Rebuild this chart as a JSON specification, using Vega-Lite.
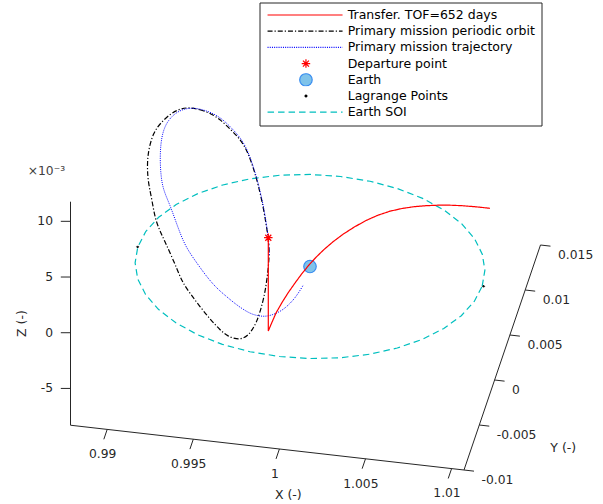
{
"$schema": "https://vega.github.io/schema/vega-lite/v6.json",
"width": 603, "height": 504, "autosize": {"type": "none"}, "padding": 0,
"background": "white",
"config": {"view": {"stroke": null}, "font": "DejaVu Sans"},
"data": {"values": [
{"k":"ax","s":"xa","i":0,"X":0.987869,"Y":-0.01,"Z":-0.008303},
{"k":"ax","s":"xa","i":1,"X":1.01072,"Y":-0.01,"Z":-0.008303},
{"k":"ax","s":"ya","i":0,"X":1.01072,"Y":-0.01,"Z":-0.008303},
{"k":"ax","s":"ya","i":1,"X":1.01072,"Y":0.015,"Z":-0.008303},
{"k":"ax","s":"za","i":0,"X":0.987869,"Y":-0.01,"Z":-0.008303},
{"k":"ax","s":"za","i":1,"X":0.987869,"Y":-0.01,"Z":0.011761},
{"k":"ax","s":"x1","i":0,"X":0.99,"Y":-0.01,"Z":-0.008303},
{"k":"ax","s":"x1","i":1,"X":0.99,"Y":-0.0111,"Z":-0.008303},
{"k":"ax","s":"x2","i":0,"X":0.995,"Y":-0.01,"Z":-0.008303},
{"k":"ax","s":"x2","i":1,"X":0.995,"Y":-0.0111,"Z":-0.008303},
{"k":"ax","s":"x3","i":0,"X":1,"Y":-0.01,"Z":-0.008303},
{"k":"ax","s":"x3","i":1,"X":1,"Y":-0.0111,"Z":-0.008303},
{"k":"ax","s":"x4","i":0,"X":1.005,"Y":-0.01,"Z":-0.008303},
{"k":"ax","s":"x4","i":1,"X":1.005,"Y":-0.0111,"Z":-0.008303},
{"k":"ax","s":"x5","i":0,"X":1.01,"Y":-0.01,"Z":-0.008303},
{"k":"ax","s":"x5","i":1,"X":1.01,"Y":-0.0111,"Z":-0.008303},
{"k":"ax","s":"y1","i":0,"X":1.01072,"Y":-0.01,"Z":-0.008303},
{"k":"ax","s":"y1","i":1,"X":1.0113,"Y":-0.01,"Z":-0.008303},
{"k":"ax","s":"y2","i":0,"X":1.01072,"Y":-0.005,"Z":-0.008303},
{"k":"ax","s":"y2","i":1,"X":1.0113,"Y":-0.005,"Z":-0.008303},
{"k":"ax","s":"y3","i":0,"X":1.01072,"Y":0,"Z":-0.008303},
{"k":"ax","s":"y3","i":1,"X":1.0113,"Y":0,"Z":-0.008303},
{"k":"ax","s":"y4","i":0,"X":1.01072,"Y":0.005,"Z":-0.008303},
{"k":"ax","s":"y4","i":1,"X":1.0113,"Y":0.005,"Z":-0.008303},
{"k":"ax","s":"y5","i":0,"X":1.01072,"Y":0.01,"Z":-0.008303},
{"k":"ax","s":"y5","i":1,"X":1.0113,"Y":0.01,"Z":-0.008303},
{"k":"ax","s":"y6","i":0,"X":1.01072,"Y":0.015,"Z":-0.008303},
{"k":"ax","s":"y6","i":1,"X":1.0113,"Y":0.015,"Z":-0.008303},
{"k":"ax","s":"z1","i":0,"X":0.987869,"Y":-0.01,"Z":-0.005},
{"k":"ax","s":"z1","i":1,"X":0.987327,"Y":-0.010118,"Z":-0.005},
{"k":"ax","s":"z2","i":0,"X":0.987869,"Y":-0.01,"Z":0},
{"k":"ax","s":"z2","i":1,"X":0.987327,"Y":-0.010118,"Z":0},
{"k":"ax","s":"z3","i":0,"X":0.987869,"Y":-0.01,"Z":0.005},
{"k":"ax","s":"z3","i":1,"X":0.987327,"Y":-0.010118,"Z":0.005},
{"k":"ax","s":"z4","i":0,"X":0.987869,"Y":-0.01,"Z":0.01},
{"k":"ax","s":"z4","i":1,"X":0.987327,"Y":-0.010118,"Z":0.01},
{"k":"xl","t":"0.99","X":0.99,"Y":-0.01,"Z":-0.008303},
{"k":"xl","t":"0.995","X":0.995,"Y":-0.01,"Z":-0.008303},
{"k":"xl","t":"1","X":1,"Y":-0.01,"Z":-0.008303},
{"k":"xl","t":"1.005","X":1.005,"Y":-0.01,"Z":-0.008303},
{"k":"xl","t":"1.01","X":1.01,"Y":-0.01,"Z":-0.008303},
{"k":"yl","t":"-0.01","X":1.01072,"Y":-0.01,"Z":-0.008303},
{"k":"yl","t":"-0.005","X":1.01072,"Y":-0.005,"Z":-0.008303},
{"k":"yl","t":"0","X":1.01072,"Y":0,"Z":-0.008303},
{"k":"yl","t":"0.005","X":1.01072,"Y":0.005,"Z":-0.008303},
{"k":"yl","t":"0.01","X":1.01072,"Y":0.01,"Z":-0.008303},
{"k":"yl","t":"0.015","X":1.01072,"Y":0.015,"Z":-0.008303},
{"k":"zl","t":"-5","X":0.987869,"Y":-0.01,"Z":-0.005},
{"k":"zl","t":"0","X":0.987869,"Y":-0.01,"Z":0},
{"k":"zl","t":"5","X":0.987869,"Y":-0.01,"Z":0.005},
{"k":"zl","t":"10","X":0.987869,"Y":-0.01,"Z":0.01},
{"k":"xt","t":"X (-)","X":1,"Y":-0.01,"Z":-0.008303},
{"k":"yt","t":"Y (-)","X":1.01072,"Y":0,"Z":-0.008303},
{"k":"zt","t":"Z (-)","X":0.987869,"Y":-0.01,"Z":0},
{"k":"ex","t":"×10⁻³","X":0.987869,"Y":-0.01,"Z":0.011761},
{"k":"soi","s":"Earth SOI","i":0,"X":1.01,"Y":0,"Z":0},
{"k":"soi","s":"Earth SOI","i":1,"X":1.009848,"Y":0.001736,"Z":0},
{"k":"soi","s":"Earth SOI","i":2,"X":1.009397,"Y":0.00342,"Z":0},
{"k":"soi","s":"Earth SOI","i":3,"X":1.00866,"Y":0.005,"Z":0},
{"k":"soi","s":"Earth SOI","i":4,"X":1.00766,"Y":0.006428,"Z":0},
{"k":"soi","s":"Earth SOI","i":5,"X":1.006428,"Y":0.00766,"Z":0},
{"k":"soi","s":"Earth SOI","i":6,"X":1.005,"Y":0.00866,"Z":0},
{"k":"soi","s":"Earth SOI","i":7,"X":1.00342,"Y":0.009397,"Z":0},
{"k":"soi","s":"Earth SOI","i":8,"X":1.001736,"Y":0.009848,"Z":0},
{"k":"soi","s":"Earth SOI","i":9,"X":1,"Y":0.01,"Z":0},
{"k":"soi","s":"Earth SOI","i":10,"X":0.998264,"Y":0.009848,"Z":0},
{"k":"soi","s":"Earth SOI","i":11,"X":0.99658,"Y":0.009397,"Z":0},
{"k":"soi","s":"Earth SOI","i":12,"X":0.995,"Y":0.00866,"Z":0},
{"k":"soi","s":"Earth SOI","i":13,"X":0.993572,"Y":0.00766,"Z":0},
{"k":"soi","s":"Earth SOI","i":14,"X":0.99234,"Y":0.006428,"Z":0},
{"k":"soi","s":"Earth SOI","i":15,"X":0.99134,"Y":0.005,"Z":0},
{"k":"soi","s":"Earth SOI","i":16,"X":0.990603,"Y":0.00342,"Z":0},
{"k":"soi","s":"Earth SOI","i":17,"X":0.990152,"Y":0.001736,"Z":0},
{"k":"soi","s":"Earth SOI","i":18,"X":0.99,"Y":0,"Z":0},
{"k":"soi","s":"Earth SOI","i":19,"X":0.990152,"Y":-0.001736,"Z":0},
{"k":"soi","s":"Earth SOI","i":20,"X":0.990603,"Y":-0.00342,"Z":0},
{"k":"soi","s":"Earth SOI","i":21,"X":0.99134,"Y":-0.005,"Z":0},
{"k":"soi","s":"Earth SOI","i":22,"X":0.99234,"Y":-0.006428,"Z":0},
{"k":"soi","s":"Earth SOI","i":23,"X":0.993572,"Y":-0.00766,"Z":0},
{"k":"soi","s":"Earth SOI","i":24,"X":0.995,"Y":-0.00866,"Z":0},
{"k":"soi","s":"Earth SOI","i":25,"X":0.99658,"Y":-0.009397,"Z":0},
{"k":"soi","s":"Earth SOI","i":26,"X":0.998264,"Y":-0.009848,"Z":0},
{"k":"soi","s":"Earth SOI","i":27,"X":1,"Y":-0.01,"Z":0},
{"k":"soi","s":"Earth SOI","i":28,"X":1.001736,"Y":-0.009848,"Z":0},
{"k":"soi","s":"Earth SOI","i":29,"X":1.00342,"Y":-0.009397,"Z":0},
{"k":"soi","s":"Earth SOI","i":30,"X":1.005,"Y":-0.00866,"Z":0},
{"k":"soi","s":"Earth SOI","i":31,"X":1.006428,"Y":-0.00766,"Z":0},
{"k":"soi","s":"Earth SOI","i":32,"X":1.00766,"Y":-0.006428,"Z":0},
{"k":"soi","s":"Earth SOI","i":33,"X":1.00866,"Y":-0.005,"Z":0},
{"k":"soi","s":"Earth SOI","i":34,"X":1.009397,"Y":-0.00342,"Z":0},
{"k":"soi","s":"Earth SOI","i":35,"X":1.009848,"Y":-0.001736,"Z":0},
{"k":"soi","s":"Earth SOI","i":36,"X":1.01,"Y":0,"Z":0},
{"k":"lp","s":"Lagrange Points","X":0.98999,"Y":0,"Z":0},
{"k":"lp","s":"Lagrange Points","X":1.01008,"Y":0,"Z":0},
{"k":"po","s":"Primary mission periodic orbit","i":0,"X":0.992933,"Y":0,"Z":0.013047},
{"k":"po","s":"Primary mission periodic orbit","i":1,"X":0.993612,"Y":0,"Z":0.01297},
{"k":"po","s":"Primary mission periodic orbit","i":2,"X":0.994251,"Y":0,"Z":0.012723},
{"k":"po","s":"Primary mission periodic orbit","i":3,"X":0.994832,"Y":0,"Z":0.012242},
{"k":"po","s":"Primary mission periodic orbit","i":4,"X":0.995441,"Y":0,"Z":0.011406},
{"k":"po","s":"Primary mission periodic orbit","i":5,"X":0.995935,"Y":0,"Z":0.01073},
{"k":"po","s":"Primary mission periodic orbit","i":6,"X":0.996324,"Y":0,"Z":0.009811},
{"k":"po","s":"Primary mission periodic orbit","i":7,"X":0.996574,"Y":0,"Z":0.008868},
{"k":"po","s":"Primary mission periodic orbit","i":8,"X":0.996806,"Y":0,"Z":0.007804},
{"k":"po","s":"Primary mission periodic orbit","i":9,"X":0.997009,"Y":0,"Z":0.0067},
{"k":"po","s":"Primary mission periodic orbit","i":10,"X":0.997195,"Y":0,"Z":0.005476},
{"k":"po","s":"Primary mission periodic orbit","i":11,"X":0.997358,"Y":0,"Z":0.004248},
{"k":"po","s":"Primary mission periodic orbit","i":12,"X":0.997485,"Y":0,"Z":0.002987},
{"k":"po","s":"Primary mission periodic orbit","i":13,"X":0.997578,"Y":0,"Z":0.002159},
{"k":"po","s":"Primary mission periodic orbit","i":14,"X":0.997636,"Y":0,"Z":0.001065},
{"k":"po","s":"Primary mission periodic orbit","i":15,"X":0.997607,"Y":0,"Z":-0.000107},
{"k":"po","s":"Primary mission periodic orbit","i":16,"X":0.99752,"Y":0,"Z":-0.001352},
{"k":"po","s":"Primary mission periodic orbit","i":17,"X":0.997416,"Y":0,"Z":-0.002474},
{"k":"po","s":"Primary mission periodic orbit","i":18,"X":0.997288,"Y":0,"Z":-0.003484},
{"k":"po","s":"Primary mission periodic orbit","i":19,"X":0.997096,"Y":0,"Z":-0.004595},
{"k":"po","s":"Primary mission periodic orbit","i":20,"X":0.996905,"Y":0,"Z":-0.0055},
{"k":"po","s":"Primary mission periodic orbit","i":21,"X":0.996661,"Y":0,"Z":-0.006243},
{"k":"po","s":"Primary mission periodic orbit","i":22,"X":0.996417,"Y":0,"Z":-0.006779},
{"k":"po","s":"Primary mission periodic orbit","i":23,"X":0.996109,"Y":0,"Z":-0.007148},
{"k":"po","s":"Primary mission periodic orbit","i":24,"X":0.995743,"Y":0,"Z":-0.007284},
{"k":"po","s":"Primary mission periodic orbit","i":25,"X":0.995238,"Y":0,"Z":-0.007122},
{"k":"po","s":"Primary mission periodic orbit","i":26,"X":0.994774,"Y":0,"Z":-0.00662},
{"k":"po","s":"Primary mission periodic orbit","i":27,"X":0.994193,"Y":0,"Z":-0.005734},
{"k":"po","s":"Primary mission periodic orbit","i":28,"X":0.993612,"Y":0,"Z":-0.004733},
{"k":"po","s":"Primary mission periodic orbit","i":29,"X":0.993031,"Y":0,"Z":-0.003632},
{"k":"po","s":"Primary mission periodic orbit","i":30,"X":0.992567,"Y":0,"Z":-0.002654},
{"k":"po","s":"Primary mission periodic orbit","i":31,"X":0.992305,"Y":0,"Z":-0.001668},
{"k":"po","s":"Primary mission periodic orbit","i":32,"X":0.991928,"Y":0,"Z":-0.000388},
{"k":"po","s":"Primary mission periodic orbit","i":33,"X":0.99158,"Y":0,"Z":0.000745},
{"k":"po","s":"Primary mission periodic orbit","i":34,"X":0.99126,"Y":0,"Z":0.001739},
{"k":"po","s":"Primary mission periodic orbit","i":35,"X":0.990999,"Y":0,"Z":0.002743},
{"k":"po","s":"Primary mission periodic orbit","i":36,"X":0.990825,"Y":0,"Z":0.004355},
{"k":"po","s":"Primary mission periodic orbit","i":37,"X":0.990621,"Y":0,"Z":0.005756},
{"k":"po","s":"Primary mission periodic orbit","i":38,"X":0.990552,"Y":0,"Z":0.007},
{"k":"po","s":"Primary mission periodic orbit","i":39,"X":0.990569,"Y":0,"Z":0.00808},
{"k":"po","s":"Primary mission periodic orbit","i":40,"X":0.990668,"Y":0,"Z":0.009112},
{"k":"po","s":"Primary mission periodic orbit","i":41,"X":0.9909,"Y":0,"Z":0.010356},
{"k":"po","s":"Primary mission periodic orbit","i":42,"X":0.991289,"Y":0,"Z":0.011322},
{"k":"po","s":"Primary mission periodic orbit","i":43,"X":0.991969,"Y":0,"Z":0.012393},
{"k":"po","s":"Primary mission periodic orbit","i":44,"X":0.992451,"Y":0,"Z":0.01281},
{"k":"tr","s":"Primary mission trajectory","i":0,"X":0.997631,"Y":0,"Z":0.000615},
{"k":"tr","s":"Primary mission trajectory","i":1,"X":0.997596,"Y":0,"Z":0.001956},
{"k":"tr","s":"Primary mission trajectory","i":2,"X":0.997503,"Y":0,"Z":0.003017},
{"k":"tr","s":"Primary mission trajectory","i":3,"X":0.997375,"Y":0,"Z":0.004251},
{"k":"tr","s":"Primary mission trajectory","i":4,"X":0.997224,"Y":0,"Z":0.005481},
{"k":"tr","s":"Primary mission trajectory","i":5,"X":0.996847,"Y":0,"Z":0.007838},
{"k":"tr","s":"Primary mission trajectory","i":6,"X":0.99637,"Y":0,"Z":0.009819},
{"k":"tr","s":"Primary mission trajectory","i":7,"X":0.995993,"Y":0,"Z":0.010785},
{"k":"tr","s":"Primary mission trajectory","i":8,"X":0.995499,"Y":0,"Z":0.011551},
{"k":"tr","s":"Primary mission trajectory","i":9,"X":0.994919,"Y":0,"Z":0.012347},
{"k":"tr","s":"Primary mission trajectory","i":10,"X":0.99428,"Y":0,"Z":0.012818},
{"k":"tr","s":"Primary mission trajectory","i":11,"X":0.993612,"Y":0,"Z":0.013032},
{"k":"tr","s":"Primary mission trajectory","i":12,"X":0.992944,"Y":0,"Z":0.013022},
{"k":"tr","s":"Primary mission trajectory","i":13,"X":0.992259,"Y":0,"Z":0.012534},
{"k":"tr","s":"Primary mission trajectory","i":14,"X":0.991771,"Y":0,"Z":0.011703},
{"k":"tr","s":"Primary mission trajectory","i":15,"X":0.991481,"Y":0,"Z":0.010754},
{"k":"tr","s":"Primary mission trajectory","i":16,"X":0.99133,"Y":0,"Z":0.009534},
{"k":"tr","s":"Primary mission trajectory","i":17,"X":0.991289,"Y":0,"Z":0.008028},
{"k":"tr","s":"Primary mission trajectory","i":18,"X":0.991347,"Y":0,"Z":0.006539},
{"k":"tr","s":"Primary mission trajectory","i":19,"X":0.991481,"Y":0,"Z":0.005368},
{"k":"tr","s":"Primary mission trajectory","i":20,"X":0.99187,"Y":0,"Z":0.00409},
{"k":"tr","s":"Primary mission trajectory","i":21,"X":0.992218,"Y":0,"Z":0.002625},
{"k":"tr","s":"Primary mission trajectory","i":22,"X":0.992642,"Y":0,"Z":0.000932},
{"k":"tr","s":"Primary mission trajectory","i":23,"X":0.993031,"Y":0,"Z":-0.000041},
{"k":"tr","s":"Primary mission trajectory","i":24,"X":0.993513,"Y":0,"Z":-0.001007},
{"k":"tr","s":"Primary mission trajectory","i":25,"X":0.994001,"Y":0,"Z":-0.001971},
{"k":"tr","s":"Primary mission trajectory","i":26,"X":0.994582,"Y":0,"Z":-0.00291},
{"k":"tr","s":"Primary mission trajectory","i":27,"X":0.995163,"Y":0,"Z":-0.003562},
{"k":"tr","s":"Primary mission trajectory","i":28,"X":0.995703,"Y":0,"Z":-0.004167},
{"k":"tr","s":"Primary mission trajectory","i":29,"X":0.996324,"Y":0,"Z":-0.004704},
{"k":"tr","s":"Primary mission trajectory","i":30,"X":0.996748,"Y":0,"Z":-0.004926},
{"k":"tr","s":"Primary mission trajectory","i":31,"X":0.997288,"Y":0,"Z":-0.004983},
{"k":"tr","s":"Primary mission trajectory","i":32,"X":0.997735,"Y":0,"Z":-0.004797},
{"k":"tr","s":"Primary mission trajectory","i":33,"X":0.998258,"Y":0,"Z":-0.004364},
{"k":"tr","s":"Primary mission trajectory","i":34,"X":0.998664,"Y":0,"Z":-0.003826},
{"k":"tr","s":"Primary mission trajectory","i":35,"X":0.99903,"Y":0,"Z":-0.003178},
{"k":"tr","s":"Primary mission trajectory","i":36,"X":0.999332,"Y":0,"Z":-0.002496},
{"k":"tr","s":"Primary mission trajectory","i":37,"X":0.999611,"Y":0,"Z":-0.001729},
{"k":"ea","s":"Earth","X":1,"Y":0,"Z":0},
{"k":"tf","s":"Transfer. TOF=652 days","i":0,"X":0.997578,"Y":0,"Z":0.002159},
{"k":"tf","s":"Transfer. TOF=652 days","i":1,"X":0.997578,"Y":0,"Z":-0.002087},
{"k":"tf","s":"Transfer. TOF=652 days","i":2,"X":0.997578,"Y":0,"Z":-0.006216},
{"k":"tf","s":"Transfer. TOF=652 days","i":3,"X":0.997735,"Y":0,"Z":-0.005605},
{"k":"tf","s":"Transfer. TOF=652 days","i":4,"X":0.998026,"Y":0,"Z":-0.004522},
{"k":"tf","s":"Transfer. TOF=652 days","i":5,"X":0.998374,"Y":0,"Z":-0.003518},
{"k":"tf","s":"Transfer. TOF=652 days","i":6,"X":0.998722,"Y":0,"Z":-0.002604},
{"k":"tf","s":"Transfer. TOF=652 days","i":7,"X":0.999129,"Y":0,"Z":-0.001634},
{"k":"tf","s":"Transfer. TOF=652 days","i":8,"X":0.999535,"Y":0,"Z":-0.00071},
{"k":"tf","s":"Transfer. TOF=652 days","i":9,"X":0.999942,"Y":0,"Z":0.000124},
{"k":"tf","s":"Transfer. TOF=652 days","i":10,"X":1.000348,"Y":0,"Z":0.000887},
{"k":"tf","s":"Transfer. TOF=652 days","i":11,"X":1.000813,"Y":0,"Z":0.001669},
{"k":"tf","s":"Transfer. TOF=652 days","i":12,"X":1.001336,"Y":0,"Z":0.002452},
{"k":"tf","s":"Transfer. TOF=652 days","i":13,"X":1.001916,"Y":0,"Z":0.003228},
{"k":"tf","s":"Transfer. TOF=652 days","i":14,"X":1.002555,"Y":0,"Z":0.003977},
{"k":"tf","s":"Transfer. TOF=652 days","i":15,"X":1.003252,"Y":0,"Z":0.004701},
{"k":"tf","s":"Transfer. TOF=652 days","i":16,"X":1.003949,"Y":0,"Z":0.0053},
{"k":"tf","s":"Transfer. TOF=652 days","i":17,"X":1.004646,"Y":0,"Z":0.005782},
{"k":"tf","s":"Transfer. TOF=652 days","i":18,"X":1.005343,"Y":0,"Z":0.006146},
{"k":"tf","s":"Transfer. TOF=652 days","i":19,"X":1.006039,"Y":0,"Z":0.006431},
{"k":"tf","s":"Transfer. TOF=652 days","i":20,"X":1.006736,"Y":0,"Z":0.006643},
{"k":"tf","s":"Transfer. TOF=652 days","i":21,"X":1.007433,"Y":0,"Z":0.006811},
{"k":"tf","s":"Transfer. TOF=652 days","i":22,"X":1.00813,"Y":0,"Z":0.006933},
{"k":"tf","s":"Transfer. TOF=652 days","i":23,"X":1.008827,"Y":0,"Z":0.007011},
{"k":"tf","s":"Transfer. TOF=652 days","i":24,"X":1.00964,"Y":0,"Z":0.007055},
{"k":"tf","s":"Transfer. TOF=652 days","i":25,"X":1.010453,"Y":0,"Z":0.007064},
{"k":"dp","s":"Departure point","X":0.997578,"Y":0,"Z":0.002159}
]},
"transform": [
{"calculate": "17220*(datum.X-1)+3060*datum.Y", "as": "h"},
{"calculate": "-1960*(datum.X-1)+9000*datum.Y+11140*datum.Z", "as": "w"}
],
"encoding": {
"x": {"field": "h", "type": "quantitative", "scale": {"domain": [-310, 293], "nice": false, "zero": false}, "axis": null},
"y": {"field": "w", "type": "quantitative", "scale": {"domain": [-237.5, 266.5], "nice": false, "zero": false}, "axis": null}
},
"layer": [
{"transform": [{"filter": "datum.k==='ax'"}], "mark": {"type": "line", "color": "#262626", "strokeWidth": 1}, "encoding": {"detail": {"field": "s"}, "order": {"field": "i", "type": "quantitative"}}},
{"transform": [{"filter": "datum.k==='zl'"}], "mark": {"type": "text", "align": "right", "baseline": "middle", "dx": -17.5, "fontSize": 12.3, "font": "DejaVu Sans", "color": "#262626"}, "encoding": {"text": {"field": "t"}}},
{"transform": [{"filter": "datum.k==='xl'"}], "mark": {"type": "text", "align": "center", "baseline": "middle", "dx": -4.6, "dy": 24.8, "fontSize": 12.3, "font": "DejaVu Sans", "color": "#262626"}, "encoding": {"text": {"field": "t"}}},
{"transform": [{"filter": "datum.k==='yl'"}], "mark": {"type": "text", "align": "left", "baseline": "middle", "dx": 17.5, "dy": 9.5, "fontSize": 12.3, "font": "DejaVu Sans", "color": "#262626"}, "encoding": {"text": {"field": "t"}}},
{"transform": [{"filter": "datum.k==='xt'"}], "mark": {"type": "text", "align": "center", "baseline": "middle", "dx": 8.9, "dy": 46, "fontSize": 12.5, "font": "DejaVu Sans", "color": "#262626"}, "encoding": {"text": {"field": "t"}}},
{"transform": [{"filter": "datum.k==='yt'"}], "mark": {"type": "text", "align": "center", "baseline": "middle", "dx": 68.7, "dy": 68.3, "fontSize": 12.5, "font": "DejaVu Sans", "color": "#262626"}, "encoding": {"text": {"field": "t"}}},
{"transform": [{"filter": "datum.k==='zt'"}], "mark": {"type": "text", "align": "center", "baseline": "middle", "angle": 270, "dx": 9.2, "dy": -48.8, "fontSize": 12.5, "font": "DejaVu Sans", "color": "#262626"}, "encoding": {"text": {"field": "t"}}},
{"transform": [{"filter": "datum.k==='ex'"}], "mark": {"type": "text", "align": "left", "baseline": "alphabetic", "dx": -42.8, "dy": -26.7, "fontSize": 12.3, "font": "DejaVu Sans", "color": "#404040"}, "encoding": {"text": {"field": "t"}}},
{"transform": [{"filter": "datum.k==='soi'"}], "mark": {"type": "line", "strokeWidth": 1.2},
 "encoding": {"order": {"field": "i", "type": "quantitative"},
  "stroke": {"field": "s", "type": "nominal",
   "scale": {"domain": ["Transfer. TOF=652 days", "Primary mission periodic orbit", "Primary mission trajectory", "Departure point", "Earth", "Lagrange Points", "Earth SOI"],
             "range": ["#ff0000", "#000000", "#0000ff", "#ff0000", "#3a8ef0", "#000000", "#00bfbf"]},
   "legend": {"orient": "none", "legendX": 259.5, "legendY": 2.5, "title": null,
     "padding": 6, "rowPadding": 3.2, "clipHeight": 13, "symbolSize": 100, "symbolStrokeWidth": 1.2, "symbolOffset": 34.2,
     "labelFont": "DejaVu Sans", "labelFontSize": 12.5, "labelColor": "#000000", "labelOffset": 35.5, "labelLimit": 400,
     "strokeColor": "#262626", "fillColor": "#ffffff"}},
  "strokeDash": {"field": "s", "type": "nominal",
   "scale": {"domain": ["Transfer. TOF=652 days", "Primary mission periodic orbit", "Primary mission trajectory", "Departure point", "Earth", "Lagrange Points", "Earth SOI"],
             "range": [[1, 0], [5, 2, 1.2, 2], [1, 1.2], [1, 0], [1, 0], [1, 0], [6.5, 4]]}}}},
{"transform": [{"filter": "datum.k==='lp'"}], "mark": {"type": "point", "size": 100, "opacity": 1, "strokeWidth": 1},
 "encoding": {
  "stroke": {"field": "s", "type": "nominal"},
  "fill": {"field": "s", "type": "nominal",
   "scale": {"domain": ["Transfer. TOF=652 days", "Primary mission periodic orbit", "Primary mission trajectory", "Departure point", "Earth", "Lagrange Points", "Earth SOI"],
             "range": ["transparent", "transparent", "transparent", "transparent", "#7fc3ea", "#000000", "transparent"]}},
  "shape": {"field": "s", "type": "nominal",
   "scale": {"domain": ["Transfer. TOF=652 days", "Primary mission periodic orbit", "Primary mission trajectory", "Departure point", "Earth", "Lagrange Points", "Earth SOI"],
             "range": ["M-7.68,0L7.32,0", "M-7.68,0L7.32,0", "M-7.68,0L7.32,0", "M-0.85,0L0.85,0M0,-0.85L0,0.85M-0.6,-0.6L0.6,0.6M-0.6,0.6L0.6,-0.6", "M1.25,0L1.155,0.478L0.884,0.884L0.478,1.155L0,1.25L-0.478,1.155L-0.884,0.884L-1.155,0.478L-1.25,0L-1.155,-0.478L-0.884,-0.884L-0.478,-1.155L0,-1.25L0.478,-1.155L0.884,-0.884L1.155,-0.478Z", "M0.2,0L0,0.2L-0.2,0L0,-0.2Z", "M-7.68,0L7.32,0"]}}}},
{"transform": [{"filter": "datum.k==='po'"}], "mark": {"type": "line", "strokeWidth": 1.2, "interpolate": "basis-closed"}, "encoding": {"order": {"field": "i", "type": "quantitative"}, "stroke": {"field": "s", "type": "nominal"}, "strokeDash": {"field": "s", "type": "nominal"}}},
{"transform": [{"filter": "datum.k==='tr'"}], "mark": {"type": "line", "strokeWidth": 1, "interpolate": "basis"}, "encoding": {"order": {"field": "i", "type": "quantitative"}, "stroke": {"field": "s", "type": "nominal"}, "strokeDash": {"field": "s", "type": "nominal"}}},
{"transform": [{"filter": "datum.k==='ea'"}], "mark": {"type": "point", "size": 100, "opacity": 1, "strokeWidth": 1.2}, "encoding": {"stroke": {"field": "s", "type": "nominal"}, "fill": {"field": "s", "type": "nominal"}, "shape": {"field": "s", "type": "nominal"}}},
{"transform": [{"filter": "datum.k==='tf'"}], "mark": {"type": "line", "strokeWidth": 1.2}, "encoding": {"order": {"field": "i", "type": "quantitative"}, "stroke": {"field": "s", "type": "nominal"}, "strokeDash": {"field": "s", "type": "nominal"}}},
{"transform": [{"filter": "datum.k==='dp'"}], "mark": {"type": "point", "size": 100, "opacity": 1, "strokeWidth": 1.3}, "encoding": {"stroke": {"field": "s", "type": "nominal"}, "fill": {"field": "s", "type": "nominal"}, "shape": {"field": "s", "type": "nominal"}}}
]
}
